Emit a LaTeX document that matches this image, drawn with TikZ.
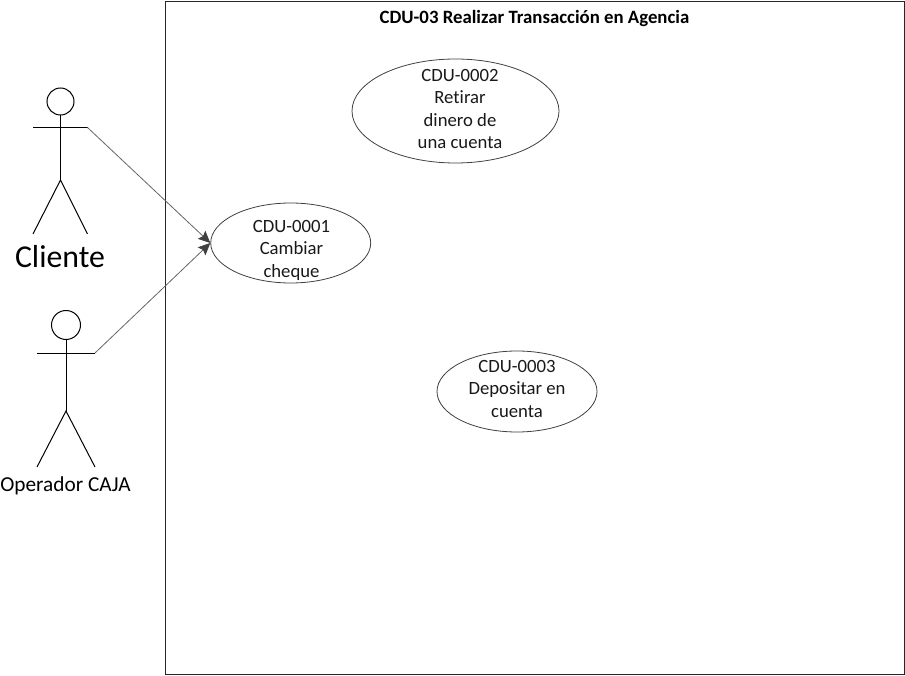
\documentclass[tikz,border=0pt]{standalone}
\usepackage{fontspec}
\setmainfont[Ligatures={NoCommon}]{Carlito}
\usetikzlibrary{shapes.geometric,arrows.meta}
\tikzset{
  usecase/.style={draw=black!75,line width=0.8pt,ellipse,inner sep=0pt},
  lbl/.style={font=\fontsize{18.7}{22.6}\selectfont,align=center,inner sep=0pt,text=black!90},
  stick/.style={draw=black,line width=1pt},
  assoc/.style={draw=black!60,line width=0.8pt,-{Stealth[length=12pt,width=11pt,inset=2pt,color=black!75]}}
}
\begin{document}
\begin{tikzpicture}[x=1pt,y=-1pt]
\useasboundingbox (0,0) rectangle (905,676);
\fill[white] (0,0) rectangle (905,676);
\node[draw=black!85,line width=1pt,minimum width=738.5pt,minimum height=673pt,inner sep=0pt,anchor=north west] (frame) at (165,1) {};
\node[font=\fontsize{18.8}{22}\bfseries\selectfont,inner sep=0pt] (title) at (534.5,19) {CDU-03 Realizar Transacción en Agencia};
% use cases
\node[usecase,minimum width=160pt,minimum height=80pt] (uc1) at (290.7,243) {};
\node[lbl] (t1) at (291.5,250.3) {CDU-0001\\Cambiar\\cheque};
\node[usecase,minimum width=207pt,minimum height=104pt] (uc2) at (455.5,111) {};
\node[lbl] (t2) at (460,109) {CDU-0002\\Retirar\\dinero de\\una cuenta};
\node[usecase,minimum width=160pt,minimum height=81pt] (uc3) at (517,391.5) {};
\node[lbl] (t3) at (517,389) {CDU-0003\\Depositar en\\cuenta};
% actor Cliente
\node[draw=black,line width=1pt,circle,minimum size=27pt,inner sep=0pt] (h1) at (60.5,101.5) {};
\coordinate (a1l) at (33,127.5);
\coordinate (a1r) at (87.5,127.5);
\coordinate (hip1) at (60.5,180);
\coordinate (f1l) at (33,234);
\coordinate (f1r) at (87.5,234);
\draw[stick] (h1.south) -- (hip1);
\draw[stick] (a1l) -- (a1r);
\draw[stick] (f1l) -- (hip1) -- (f1r);
\node[font=\fontsize{31.8}{38}\selectfont,inner sep=0pt] (n1) at (60,257) {Cliente};
% actor Operador
\node[draw=black,line width=1pt,circle,minimum size=29pt,inner sep=0pt] (h2) at (66,325) {};
\coordinate (a2l) at (37,353);
\coordinate (a2r) at (95,353);
\coordinate (hip2) at (66,411);
\coordinate (f2l) at (37,467);
\coordinate (f2r) at (95,467);
\draw[stick] (h2.south) -- (hip2);
\draw[stick] (a2l) -- (a2r);
\draw[stick] (f2l) -- (hip2) -- (f2r);
\node[font=\fontsize{21.3}{25}\selectfont,inner sep=0pt] (n2) at (65.5,486) {Operador CAJA};
% associations
\draw[assoc] (a1r) -- (uc1.west);
\draw[assoc] (a2r) -- (uc1.west);
\end{tikzpicture}
\end{document}
